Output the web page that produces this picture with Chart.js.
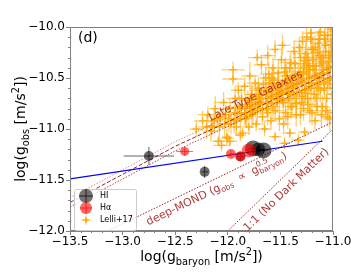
<!DOCTYPE html>
<html>
<head>
<meta charset="utf-8">
<script src="https://cdn.jsdelivr.net/npm/chart.js@4.4.1/dist/chart.umd.min.js"></script>
<style>
  html,body{margin:0;padding:0;background:#fff;}
  #wrap{width:351px;height:273px;}
</style>
</head>
<body>
<div id="wrap"><canvas id="c" width="351" height="273"></canvas></div>
<script>
// ─── DATA ──────────────────────────────────────────────────────────
const X_TICKS = [-13.5, -13.0, -12.5, -12.0, -11.5, -11.0];
const Y_TICKS = [-12.0, -11.5, -11.0, -10.5, -10.0];

// HI measurements (log gbar, log gobs, errors, marker radius)
const hiX   = [-12.75, -12.22, -11.88, -11.76, -11.66, -11.71];
const hiY   = [-11.265, -11.42, -11.27, -11.19, -11.21, -11.20];
const hiEx  = [0.24, 0.03, 0.03, 0.04, 0.04, 0.04];
const hiEy  = [0.09, 0.06, 0.03, 0.03, 0.03, 0.03];
const hiR   = [5, 5, 5, 8, 8, 7];

// H-alpha measurements
const haX   = [-12.41, -11.97, -11.88, -11.80];
const haY   = [-11.22, -11.245, -11.27, -11.21];
const haEx  = [0.08, 0.03, 0.03, 0.04];
const haEy  = [0.04, 0.03, 0.03, 0.03];
const haR   = [4.5, 5, 5, 7];

// Lelli+17 late-type galaxies
const lelliX = [
  -12.30,-12.24,-12.19,-12.15,-12.12,-12.09,-12.06,-12.10,
  -12.04,-12.01,-12.00,-11.98,-11.97,-11.95,-11.95,-11.93,-11.91,-11.90,-11.88,-11.86,-11.87,
  -11.84,-11.83,-11.81,-11.80,-11.79,-11.77,-11.76,-11.74,-11.73,-11.71,-11.70,-11.68,-11.67,
  -11.65,-11.64,-11.62,-11.61,-11.60,-11.59,-11.58,-11.57,-11.55,-11.55,-11.53,-11.52,-11.51,-11.50,
  -11.49,-11.48,-11.47,-11.46,-11.45,-11.44,-11.43,-11.42,-11.41,-11.40,-11.39,-11.38,-11.37,-11.36,-11.35,
  -11.34,-11.33,-11.32,-11.31,-11.30,-11.29,-11.28,-11.27,-11.26,-11.25,-11.24,-11.23,-11.22,-11.21,-11.20,
  -11.19,-11.18,-11.17,-11.16,-11.15,-11.14,-11.13,-11.12,-11.11,-11.10,-11.09,-11.08,-11.07,-11.06,-11.05,
  -11.04,-11.03,-11.02,-11.01,-11.00,-10.98,-10.96,-10.95,-10.93,
  -11.31,-11.27,-11.23,-11.19,-11.16,-11.12,-11.08,-11.05,-11.02,-11.40,-11.45,-11.52,-11.58,-11.63,-11.70,-11.78,
  -11.62,-11.55,-11.48,-11.72,
  -12.20,-12.16,-12.13,-12.08,-12.07,-12.03,-12.02,-11.99,-11.98,-11.94,-11.93,-11.92,
  -11.89,-11.88,-11.87,-11.84,-11.83,-11.82,-11.79,-11.78,-11.77,
  -11.74,-11.73,-11.72,-11.71,-11.69,-11.68,-11.67,-11.66,-11.64,-11.63,-11.62,-11.61,
  -11.59,-11.58,-11.57,-11.56,-11.54,-11.53,-11.52,-11.51,
  -11.49,-11.48,-11.47,-11.46,-11.45,-11.44,-11.43,-11.42,-11.41,-11.40,
  -11.39,-11.38,-11.37,-11.36,-11.35,-11.34,-11.33,-11.32,-11.31,-11.30,
  -11.29,-11.28,-11.27,-11.26,-11.25,-11.24,-11.23,-11.22,-11.21,-11.20,-11.19,-11.18,
  -11.17,-11.16,-11.15,-11.14,-11.13,-11.12,-11.11,-11.10,-11.09,-11.08,-11.07,-11.06,
  -11.05,-11.04,-11.03,-11.02,-11.01,-11.00,
  -10.98,-10.97,-10.96,-10.94,-10.92,-10.90,-10.88,-10.86,
  -11.29,-11.25,-11.21,-11.17,-11.13,-11.09,-11.05,-11.01,-10.97,-10.91,
  -11.28,-11.24,-11.20,-11.15,-11.11,-11.07,-11.03,-10.99,-11.35,-11.43
];
const lelliY = [
  -11.00,-10.92,-10.86,-10.97,-10.80,-11.12,-11.16,-10.90,
  -10.74,-11.08,-11.09,-11.12,-10.95,-10.42,-10.51,-10.70,-10.85,-10.62,-11.06,-11.04,-10.78,
  -10.58,-10.90,-10.72,-10.98,-10.48,-10.66,-10.84,-10.55,-10.95,-10.74,-10.62,-10.37,-10.88,
  -11.00,-10.50,-10.75,-10.62,-10.55,-10.92,-10.68,-10.40,-11.075,-10.82,-10.58,-10.45,-10.70,-10.62,
  -10.32,-10.72,-10.95,-11.14,-10.55,-10.48,-10.88,-10.64,-11.04,-10.35,-10.78,-10.60,-10.24,-10.48,-10.75,
  -10.56,-11.11,-10.20,-10.86,-10.52,-10.68,-10.40,-11.03,-10.65,-10.46,-10.30,-10.58,-10.82,-10.12,-10.55,
  -10.38,-10.42,-10.92,-10.70,-10.25,-10.60,-10.50,-10.05,-10.34,-10.78,-10.45,-10.60,-10.18,-10.40,-10.88,
  -10.28,-10.52,-10.02,-10.66,-10.38,-10.20,-10.50,-10.10,-10.70,
  -10.44,-10.33,-10.38,-10.22,-10.48,-10.30,-10.12,-10.56,-10.30,-10.55,-10.40,-10.66,-10.50,-10.80,-10.70,-10.80,
  -10.28,-10.22,-10.18,-10.30,
  -10.98,-11.02,-10.92,-10.98,-10.88,-10.95,-10.86,-10.90,-10.80,-10.92,-10.84,-10.98,
  -10.80,-10.90,-10.70,-10.84,-10.76,-10.88,-10.78,-10.70,-10.86,
  -10.76,-10.68,-10.82,-10.60,-10.74,-10.66,-10.80,-10.56,-10.70,-10.64,-10.84,-10.46,
  -10.70,-10.60,-10.78,-10.52,-10.66,-10.74,-10.56,-10.90,
  -10.64,-10.56,-10.74,-10.44,-10.84,-10.60,-10.52,-10.70,-10.40,-10.78,
  -10.58,-10.50,-10.66,-10.36,-10.86,-10.56,-10.46,-10.64,-10.30,-10.74,
  -10.54,-10.44,-10.62,-10.26,-10.36,-10.70,-10.50,-10.42,-10.60,-10.22,-10.32,-10.66,
  -10.48,-10.38,-10.56,-10.16,-10.28,-10.62,-10.46,-10.36,-10.54,-10.08,-10.24,-10.70,
  -10.42,-10.34,-10.50,-10.14,-10.24,-10.60,
  -10.40,-10.30,-10.04,-10.22,-10.56,-10.16,-10.36,-10.74,
  -10.14,-10.10,-10.06,-10.20,-10.12,-10.30,-10.08,-10.18,-10.26,-10.10,
  -10.80,-10.76,-10.84,-10.78,-10.86,-10.82,-10.90,-10.84,-10.70,-10.66
];
const lelliEx = [
  .06,.08,.10,.07,.06,.06,.08,.05,
  .09,.05,.06,.07,.06,.11,.10,.08,.06,.07,.05,.07,.06,
  .09,.06,.06,.05,.08,.07,.06,.08,.05,.07,.08,.07,.05,
  .06,.06,.09,.05,.07,.06,.06,.08,.06,.08,.06,.07,.05,.06,
  .08,.08,.06,.05,.06,.07,.07,.06,.06,.08,.05,.06,.07,.09,.07,
  .06,.06,.07,.06,.06,.05,.08,.06,.07,.06,.06,.05,.08,.07,.07,
  .06,.09,.06,.06,.07,.05,.08,.06,.07,.06,.06,.08,.07,.05,.06,
  .08,.07,.06,.07,.08,.06,.07,.07,.06,
  .07,.06,.08,.06,.07,.06,.07,.06,.07,.06,.07,.06,.07,.06,.07,.06,
  .07,.06,.08,.09,
  .08,.07,.09,.08,.06,.07,.08,.09,.07,.08,.06,.07,
  .08,.07,.09,.07,.08,.06,.08,.07,.06,
  .08,.07,.09,.07,.08,.07,.06,.08,.08,.07,.06,.08,
  .07,.08,.06,.09,.07,.08,.06,.07,
  .08,.07,.06,.08,.07,.08,.07,.06,.08,.07,
  .08,.07,.06,.08,.07,.08,.07,.06,.08,.07,
  .08,.07,.06,.08,.07,.06,.08,.07,.06,.08,.07,.06,
  .08,.07,.06,.08,.07,.06,.08,.07,.06,.08,.07,.06,
  .08,.07,.06,.08,.07,.06,
  .09,.08,.09,.08,.09,.10,.10,.10,
  .08,.07,.08,.07,.08,.07,.08,.09,.09,.10,
  .07,.08,.07,.08,.07,.08,.07,.09,.07,.08
];
const lelliEy = [
  .08,.10,.08,.09,.12,.05,.06,.07,
  .10,.08,.05,.06,.10,.08,.06,.12,.10,.08,.06,.05,.09,
  .09,.08,.10,.08,.14,.10,.12,.08,.07,.09,.08,.09,.08,
  .07,.11,.12,.08,.10,.09,.08,.10,.05,.10,.08,.12,.09,.09,
  .10,.08,.10,.06,.10,.09,.12,.08,.05,.10,.09,.08,.11,.12,.10,
  .09,.06,.10,.10,.08,.09,.12,.05,.10,.09,.09,.08,.12,.10,.08,
  .10,.10,.09,.12,.08,.10,.10,.10,.09,.11,.09,.10,.10,.08,.10,
  .12,.10,.08,.10,.12,.10,.10,.10,.10,
  .10,.09,.10,.11,.09,.10,.09,.10,.11,.09,.10,.09,.10,.09,.10,.09,
  .10,.09,.10,.08,
  .12,.10,.12,.14,.10,.12,.10,.13,.10,.12,.10,.09,
  .13,.10,.12,.12,.10,.11,.12,.10,.13,
  .12,.10,.12,.11,.12,.10,.12,.10,.12,.10,.12,.12,
  .12,.10,.12,.12,.12,.10,.12,.12,
  .12,.10,.12,.12,.10,.12,.10,.12,.12,.12,
  .12,.10,.12,.12,.12,.12,.10,.12,.12,.12,
  .12,.10,.12,.12,.12,.12,.12,.10,.12,.12,.12,.12,
  .12,.10,.12,.12,.12,.12,.12,.10,.12,.12,.12,.12,
  .12,.10,.12,.12,.12,.12,
  .12,.12,.12,.12,.12,.12,.12,.12,
  .10,.12,.10,.12,.10,.12,.10,.12,.12,.12,
  .12,.10,.12,.10,.12,.10,.12,.12,.12,.10
];

// reference lines
const rarX    = [-13.5, -12.5, -12.0, -11.0];
const rarMidY = [-11.72, -11.17, -10.93, -10.43];
const rarHiY  = [-11.675, -11.125, -10.885, -10.385];
const rarLoY  = [-11.765, -11.215, -10.975, -10.475];
const mondX   = [-13.5, -11.0];
const mondY   = [-12.18, -10.93];
const oneX    = [-12.2, -11.0];
const oneY    = [-12.2, -11.0];
const fitX    = [-13.5, -11.1];
const fitY    = [-11.49, -11.12];

const pts=(xs,ys)=>xs.map((v,i)=>({x:v,y:ys[i]}));
const FONT='"DejaVu Sans", sans-serif';
const fmtTick=v=>(v<0?'\u2212':'')+Math.abs(v).toFixed(1);

// ─── PLUGINS ───────────────────────────────────────────────────────
const errorBars={
  id:'errorBars',
  beforeDatasetDraw(chart,args){
    const ds=chart.data.datasets[args.index];
    if(!ds.errX) return;
    const {ctx,chartArea:a,scales:{x,y}}=chart;
    ctx.save();
    ctx.beginPath();ctx.rect(a.left,a.top,a.width,a.height);ctx.clip();
    ctx.strokeStyle=ds.errColor;ctx.lineWidth=ds.errWidth||1;
    ds.data.forEach((p,i)=>{
      const px=x.getPixelForValue(p.x),py=y.getPixelForValue(p.y);
      ctx.beginPath();
      ctx.moveTo(x.getPixelForValue(p.x-ds.errX[i]),py);
      ctx.lineTo(x.getPixelForValue(p.x+ds.errX[i]),py);
      ctx.moveTo(px,y.getPixelForValue(p.y-ds.errY[i]));
      ctx.lineTo(px,y.getPixelForValue(p.y+ds.errY[i]));
      ctx.stroke();
    });
    ctx.restore();
  }
};

// parts: [text, scale, dy(em)] or {sub,sup}
function drawRich(ctx,parts,cx,cy,angle,size,color){
  const w=p=>{
    if(Array.isArray(p)){ctx.font=(size*p[1])+'px '+FONT;return ctx.measureText(p[0]).width;}
    ctx.font=(size*0.7)+'px '+FONT;
    return Math.max(ctx.measureText(p.sub).width,ctx.measureText(p.sup).width);
  };
  const total=parts.reduce((s,p)=>s+w(p),0);
  ctx.save();
  ctx.translate(cx,cy);ctx.rotate(angle*Math.PI/180);
  ctx.fillStyle=color;ctx.textBaseline='alphabetic';ctx.textAlign='left';
  let x0=-total/2;const base=size*0.36;
  parts.forEach(p=>{
    const ww=w(p);
    if(Array.isArray(p)){
      ctx.font=(size*p[1])+'px '+FONT;
      ctx.fillText(p[0],x0,base+p[2]*size);
    }else{
      ctx.font=(size*0.7)+'px '+FONT;
      ctx.fillText(p.sub,x0,base+0.25*size);
      ctx.fillText(p.sup,x0,base-0.45*size);
    }
    x0+=ww;
  });
  ctx.restore();
}

const decor={
  id:'decor',
  afterDraw(chart){
    const {ctx,chartArea:a,scales:{x,y}}=chart;
    ctx.save();
    // frame
    ctx.strokeStyle='#808080';ctx.lineWidth=1;
    ctx.strokeRect(a.left+0.5,a.top+0.5,a.width-1,a.height-1);
    // minor ticks
    ctx.beginPath();
    for(let i=-135;i<=-110;i++){
      if(i%5===0) continue;
      const px=Math.round(x.getPixelForValue(i/10))+0.5;
      ctx.moveTo(px,a.bottom);ctx.lineTo(px,a.bottom+2);
    }
    for(let i=-120;i<=-100;i++){
      if(i%5===0) continue;
      const py=Math.round(y.getPixelForValue(i/10))+0.5;
      ctx.moveTo(a.left,py);ctx.lineTo(a.left-2,py);
    }
    ctx.stroke();
    ctx.restore();

    // axis titles
    drawRich(ctx,[['log(g',1,0],['baryon',0.7,0.25],[' [m/s',1,0],['2',0.7,-0.42],['])',1,0]],
      (a.left+a.right)/2,256,0,14,'#000');
    drawRich(ctx,[['log(g',1,0],['obs',0.7,0.25],[' [m/s',1,0],['2',0.7,-0.42],['])',1,0]],
      20,(a.top+a.bottom)/2,-90,14,'#000');

    // panel tag
    ctx.save();
    ctx.font='14px '+FONT;ctx.fillStyle='#000';ctx.textBaseline='middle';
    ctx.fillText('(d)',a.left+8,a.top+11);
    ctx.restore();

    // annotations
    const tc='rgba(165,42,42,0.92)';
    const ang=-Math.atan(0.5*(y.getPixelForValue(-11)-y.getPixelForValue(-12))/(x.getPixelForValue(-12)-x.getPixelForValue(-11)))*180/Math.PI;
    const ang1=-Math.atan((y.getPixelForValue(-12)-y.getPixelForValue(-11))/(x.getPixelForValue(-11)-x.getPixelForValue(-12)))*180/Math.PI;
    drawRich(ctx,[['Late-Type Galaxies',1,0]],x.getPixelForValue(-11.74),y.getPixelForValue(-10.67),ang,11,tc);
    drawRich(ctx,[['deep-MOND (g',1,0],['obs',0.7,0.25],['  \u221D  g',1,0],{sub:'baryon',sup:'0.5'},[')',1,0]],
      x.getPixelForValue(-12.11),y.getPixelForValue(-11.58),ang,11,tc);
    drawRich(ctx,[['1:1 (No Dark Matter)',1,0]],x.getPixelForValue(-11.45),y.getPixelForValue(-11.59),ang1,11,tc);

    // legend
    const lx=74,ly=189,lw=62,lh=41;
    ctx.save();
    ctx.fillStyle='rgba(255,255,255,0.8)';ctx.strokeStyle='#cccccc';ctx.lineWidth=1;
    ctx.beginPath();ctx.roundRect(lx+0.5,ly+0.5,lw,lh,2);ctx.fill();ctx.stroke();
    const items=[
      {t:'HI',fill:'rgba(0,0,0,0.55)',err:'rgba(0,0,0,0.7)',r:7,e:7},
      {t:'H\u03B1',fill:'rgba(255,0,0,0.6)',err:'rgba(255,0,0,0.7)',r:6,e:6},
      {t:'Lelli+17',fill:null,err:'rgba(255,165,0,0.6)',r:3,e:5}
    ];
    items.forEach((it,i)=>{
      const mx=86,my=196+i*12;
      ctx.strokeStyle=it.err;ctx.lineWidth=1;
      ctx.beginPath();ctx.moveTo(mx-it.e,my);ctx.lineTo(mx+it.e,my);ctx.moveTo(mx,my-it.e);ctx.lineTo(mx,my+it.e);ctx.stroke();
      if(it.fill){ctx.fillStyle=it.fill;ctx.beginPath();ctx.arc(mx,my,it.r,0,Math.PI*2);ctx.fill();}
      else{ctx.strokeStyle='rgba(255,165,0,0.9)';ctx.lineWidth=1.5;ctx.beginPath();ctx.moveTo(mx-3,my);ctx.lineTo(mx+3,my);ctx.moveTo(mx,my-3);ctx.lineTo(mx,my+3);ctx.stroke();}
      ctx.fillStyle='#000';ctx.font='8px '+FONT;ctx.textBaseline='middle';
      ctx.fillText(it.t,100,my);
    });
    ctx.restore();
  }
};

// ─── CHART ─────────────────────────────────────────────────────────
const lineDs=(xs,ys,color,dash,w,order)=>({
  data:pts(xs,ys),showLine:true,pointRadius:0,borderColor:color,borderWidth:w,borderDash:dash,fill:false,order
});

new Chart(document.getElementById('c'),{
  type:'scatter',
  data:{datasets:[
    {label:'H\u03B1',data:pts(haX,haY),errX:haEx,errY:haEy,errColor:'rgba(255,0,0,0.6)',
     pointRadius:haR,backgroundColor:'rgba(255,0,0,0.6)',borderWidth:0,order:1},
    {label:'HI',data:pts(hiX,hiY),errX:hiEx,errY:hiEy,errColor:'rgba(0,0,0,0.6)',
     pointRadius:hiR,backgroundColor:'rgba(0,0,0,0.58)',borderWidth:0,order:2},
    lineDs(fitX,fitY,'#0000ff',[],1.2,3),
    lineDs(rarX,rarMidY,'rgba(139,0,0,0.85)',[4,2],1,4),
    lineDs(rarX,rarHiY,'rgba(165,42,42,0.5)',[1.5,1.5],1,4),
    lineDs(rarX,rarLoY,'rgba(139,0,0,0.7)',[1.5,1.5],1,4),
    lineDs(mondX,mondY,'rgba(139,0,0,0.85)',[1.5,1.5],1,4),
    lineDs(oneX,oneY,'rgba(139,0,0,0.85)',[1.5,1.5],1,4),
    {label:'Lelli+17',data:pts(lelliX,lelliY),errX:lelliEx,errY:lelliEy,errColor:'rgba(255,165,0,0.55)',errWidth:1.3,
     pointStyle:'cross',pointRadius:3.5,borderColor:'rgba(255,165,0,0.8)',borderWidth:1.5,order:5}
  ]},
  options:{
    responsive:false,devicePixelRatio:1,animation:false,
    layout:{padding:{top:27,right:18,left:0,bottom:0}},
    plugins:{legend:{display:false},tooltip:{enabled:false}},
    scales:{
      x:{type:'linear',min:-13.5,max:-11,
        afterBuildTicks:s=>{s.ticks=X_TICKS.map(v=>({value:v}));},
        afterFit:s=>{s.height=42;s.paddingLeft=0;s.paddingRight=0;},
        ticks:{callback:fmtTick,font:{size:12,family:FONT},color:'#000',padding:0,maxRotation:0},
        grid:{drawOnChartArea:false,drawTicks:true,tickLength:4,color:'#808080'},
        border:{color:'#808080'}},
      y:{type:'linear',min:-12,max:-10,
        afterBuildTicks:s=>{s.ticks=Y_TICKS.map(v=>({value:v}));},
        afterFit:s=>{s.width=70;s.paddingTop=0;s.paddingBottom=0;},
        ticks:{callback:fmtTick,font:{size:12,family:FONT},color:'#000',padding:1},
        grid:{drawOnChartArea:false,drawTicks:true,tickLength:4,color:'#808080'},
        border:{color:'#808080'}}
    }
  },
  plugins:[errorBars,decor]
});
</script>
</body>
</html>
